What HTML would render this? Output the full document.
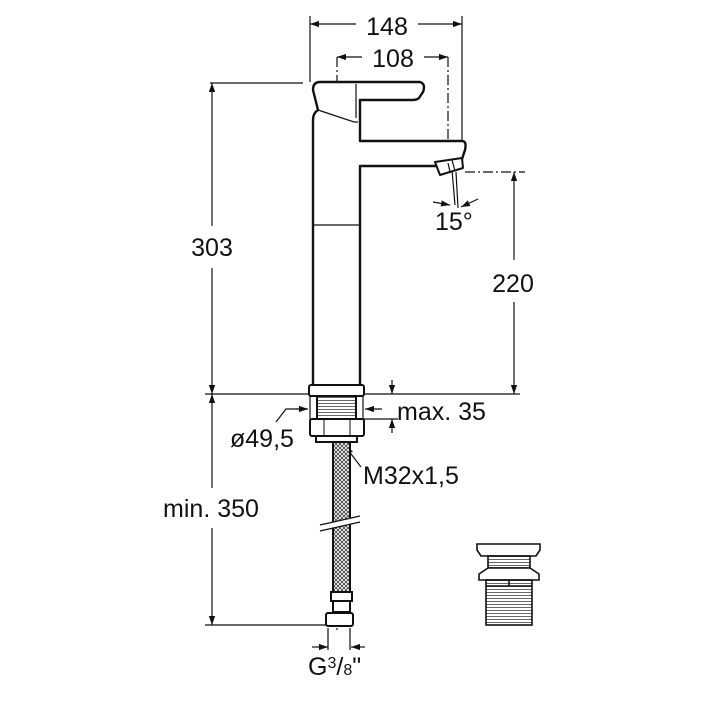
<!DOCTYPE html>
<html><head><style>body{margin:0;background:#fff}svg{display:block}text{font-family:"Liberation Sans",sans-serif;fill:#111}</style></head><body>
<svg width="701" height="701" viewBox="0 0 701 701" xmlns="http://www.w3.org/2000/svg">
<defs>
<marker id="a" viewBox="0 0 10 10" refX="10" refY="5" markerWidth="9" markerHeight="9" orient="auto-start-reverse" markerUnits="userSpaceOnUse"><path d="M0,1.5L10,5L0,8.5z" fill="#111"/></marker>
<pattern id="mesh" width="4" height="4" patternUnits="userSpaceOnUse"><rect width="4" height="4" fill="#fff"/><path d="M0,0L4,4M4,0L0,4" stroke="#444" stroke-width="0.9"/></pattern>
<pattern id="thr" width="4" height="3" patternUnits="userSpaceOnUse"><rect width="4" height="3" fill="#fff"/><path d="M0,1.5H4" stroke="#666" stroke-width="1"/></pattern>
</defs>
<g stroke="#111" fill="none" stroke-width="1.2">
<line x1="310" y1="16" x2="310" y2="82"/><line x1="462" y1="16" x2="462" y2="140"/>
<line x1="310" y1="24" x2="356" y2="24" marker-start="url(#a)"/><line x1="418" y1="24" x2="462" y2="24" marker-end="url(#a)"/>
<line x1="337" y1="57" x2="362" y2="57" marker-start="url(#a)"/><line x1="424" y1="57" x2="448" y2="57" marker-end="url(#a)"/>
<line x1="337" y1="57" x2="337" y2="630" stroke-dasharray="10,3,2,3"/>
<line x1="448" y1="57" x2="448" y2="165" stroke-dasharray="10,3,2,3"/>
<line x1="210" y1="83" x2="303" y2="83"/><line x1="205" y1="394" x2="310" y2="394"/><line x1="365" y1="394" x2="520" y2="394"/>
<line x1="212" y1="83" x2="212" y2="226" marker-start="url(#a)"/><line x1="212" y1="268" x2="212" y2="394" marker-end="url(#a)"/>
<line x1="212" y1="394" x2="212" y2="488" marker-start="url(#a)"/><line x1="212" y1="528" x2="212" y2="625" marker-end="url(#a)"/>
<line x1="205" y1="625" x2="328" y2="625"/>
<line x1="465" y1="172" x2="525" y2="172" stroke-dasharray="10,3,2,3"/>
<line x1="514" y1="172" x2="514" y2="260" marker-start="url(#a)"/><line x1="514" y1="302" x2="514" y2="394" marker-end="url(#a)"/>
<line x1="392" y1="380" x2="392" y2="394" marker-end="url(#a)"/><line x1="392" y1="433" x2="392" y2="419" marker-end="url(#a)"/>
<line x1="362" y1="419" x2="398" y2="419"/>
<line x1="382" y1="409" x2="365" y2="409" marker-end="url(#a)"/>
<path d="M276,422L286,409H307" /><line x1="296" y1="409" x2="308" y2="409" marker-end="url(#a)"/>
<line x1="310" y1="396" x2="310" y2="420"/><line x1="363" y1="396" x2="363" y2="420"/>
<line x1="361" y1="467" x2="345" y2="446" marker-end="url(#a)"/>
<line x1="328" y1="628" x2="328" y2="650"/><line x1="350" y1="628" x2="350" y2="650"/>
<line x1="312" y1="647" x2="328" y2="647" marker-end="url(#a)"/><line x1="365" y1="647" x2="351" y2="647" marker-end="url(#a)"/>
<line x1="452" y1="170" x2="455" y2="205"/><line x1="456" y1="172" x2="458" y2="208"/>
<line x1="433" y1="202" x2="450" y2="205" marker-end="url(#a)"/><line x1="478" y1="199" x2="461" y2="207" marker-end="url(#a)"/>
</g>
<g stroke="#111" fill="#fff" stroke-width="2.4" stroke-linejoin="round">
<path d="M313,386V120Q313,113 318,110L313,90Q313,82 320,82H420Q426,84 423,92L419,98Q417,100 412,100H360V141H462Q467,141 465,150L461,162Q460,166 455,166H360V386Z"/>
<path d="M435,162L462,158L463,168L440,175Z" stroke-width="2"/>
</g>
<g stroke="#111" fill="none" stroke-width="1.2">
<line x1="313" y1="225" x2="360" y2="225"/>
<path d="M318,110L354,122H358"/><line x1="356" y1="84" x2="356" y2="118"/>
<line x1="448" y1="163" x2="450" y2="172"/><line x1="452" y1="160" x2="455" y2="171"/>
</g>
<g stroke="#111" stroke-width="2">
<rect x="309" y="385" width="55" height="11" rx="2" fill="#fff"/>
<rect x="317" y="396" width="39" height="23" fill="url(#thr)"/>
<rect x="310" y="419" width="54" height="17" rx="2" fill="#fff"/>
<line x1="324" y1="420" x2="324" y2="435" stroke-width="1"/><line x1="350" y1="420" x2="350" y2="435" stroke-width="1"/>
<rect x="316" y="436" width="41" height="6" fill="#fff"/>
<rect x="333" y="442" width="17" height="150" fill="url(#mesh)"/>
<rect x="331" y="592" width="21" height="9" fill="#fff"/>
<rect x="333" y="601" width="17" height="11" fill="#fff"/>
<rect x="326" y="613" width="27" height="13" rx="2" fill="#fff"/>
</g>
<path d="M320,525L360,516L360,522L320,531Z" fill="#fff"/>
<g stroke="#111" stroke-width="1.3"><line x1="320" y1="525" x2="360" y2="516"/><line x1="320" y1="531" x2="360" y2="522"/></g>
<g stroke="#111" stroke-width="1.6" fill="#fff">
<path d="M477,544H540V550L536,556H481L477,550Z"/>
<rect x="488" y="556" width="42" height="12" fill="url(#thr)"/>
<path d="M479,574L488,568H530L539,574V580H479Z"/>
<rect x="486" y="580" width="46" height="45" fill="url(#thr)"/>
<line x1="486" y1="586" x2="532" y2="586"/><line x1="509" y1="580" x2="509" y2="586"/>
</g>
<g font-size="25">
<text x="387" y="35" text-anchor="middle">148</text>
<text x="393" y="67" text-anchor="middle">108</text>
<text x="212" y="256" text-anchor="middle">303</text>
<text x="513" y="292" text-anchor="middle">220</text>
<text x="397" y="420">max. 35</text>
<text x="230" y="447">ø49,5</text>
<text x="363" y="484">M32x1,5</text>
<text x="211" y="517" text-anchor="middle">min. 350</text>
<text x="435" y="230">15°</text>
<text x="308" y="675">G<tspan font-size="16" dy="-7">3</tspan><tspan dy="7">/</tspan><tspan font-size="16">8</tspan>"</text>
</g>
</svg>
</body></html>
